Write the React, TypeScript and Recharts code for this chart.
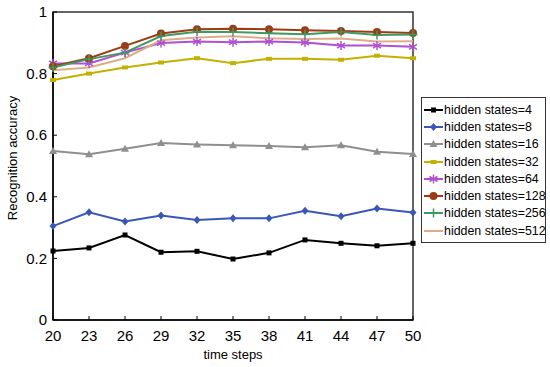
import { LineChart, Line, XAxis, YAxis, ReferenceArea } from 'recharts';

const timeSteps = [20, 23, 26, 29, 32, 35, 38, 41, 44, 47, 50];
const yTicks = [0, 0.2, 0.4, 0.6, 0.8, 1];

const hidden4 = [0.224, 0.234, 0.276, 0.22, 0.223, 0.198, 0.218, 0.26, 0.249, 0.241, 0.249];
const hidden8 = [0.305, 0.35, 0.32, 0.339, 0.325, 0.33, 0.33, 0.355, 0.337, 0.362, 0.349];
const hidden16 = [0.549, 0.538, 0.556, 0.575, 0.57, 0.567, 0.565, 0.561, 0.567, 0.546, 0.539];
const hidden32 = [0.779, 0.8, 0.82, 0.836, 0.85, 0.834, 0.848, 0.848, 0.845, 0.858, 0.85];
const hidden64 = [0.833, 0.833, 0.868, 0.899, 0.904, 0.902, 0.904, 0.901, 0.891, 0.891, 0.887];
const hidden128 = [0.824, 0.85, 0.89, 0.93, 0.944, 0.946, 0.944, 0.941, 0.938, 0.935, 0.932];
const hidden256 = [0.82, 0.847, 0.868, 0.922, 0.936, 0.935, 0.931, 0.928, 0.935, 0.925, 0.927];
const hidden512 = [0.811, 0.82, 0.85, 0.908, 0.917, 0.921, 0.915, 0.912, 0.914, 0.904, 0.905];

type Shape = 'square' | 'diamond' | 'triangle' | 'dash' | 'star' | 'circle' | 'plus' | 'none';

const series: { key: string; name: string; values: number[]; color: string; shape: Shape }[] = [
    { key: 'h4', name: 'hidden states=4', values: hidden4, color: '#000000', shape: 'square' },
    { key: 'h8', name: 'hidden states=8', values: hidden8, color: '#3a56b8', shape: 'diamond' },
    { key: 'h16', name: 'hidden states=16', values: hidden16, color: '#8f8f8f', shape: 'triangle' },
    { key: 'h32', name: 'hidden states=32', values: hidden32, color: '#c4b000', shape: 'dash' },
    { key: 'h64', name: 'hidden states=64', values: hidden64, color: '#b04fd0', shape: 'star' },
    { key: 'h128', name: 'hidden states=128', values: hidden128, color: '#9c3c14', shape: 'circle' },
    { key: 'h256', name: 'hidden states=256', values: hidden256, color: '#3f9a62', shape: 'plus' },
    { key: 'h512', name: 'hidden states=512', values: hidden512, color: '#dcae88', shape: 'none' },
];

const data = timeSteps.map((t, i) => {
    const row: Record<string, number> = { t };
    series.forEach((s) => { row[s.key] = s.values[i]; });
    return row;
});

const FONT = '"Liberation Sans", Arial, sans-serif';

const Marker = ({ cx, cy, shape, color }: { cx: number; cy: number; shape: Shape; color: string }) => {
    switch (shape) {
        case 'square':
            return <rect x={cx - 2.5} y={cy - 2.5} width={5} height={5} fill={color} />;
        case 'diamond':
            return <polygon points={`${cx},${cy - 4} ${cx + 3.5},${cy} ${cx},${cy + 4} ${cx - 3.5},${cy}`} fill={color} />;
        case 'triangle':
            return <polygon points={`${cx},${cy - 4} ${cx + 4},${cy + 3} ${cx - 4},${cy + 3}`} fill={color} />;
        case 'dash':
            return <rect x={cx - 3} y={cy - 2} width={6} height={4} fill={color} />;
        case 'star':
            return (
                <g stroke={color} strokeWidth={1.5}>
                    <line x1={cx} y1={cy - 4.5} x2={cx} y2={cy + 4.5} />
                    <line x1={cx - 4} y1={cy - 2.5} x2={cx + 4} y2={cy + 2.5} />
                    <line x1={cx - 4} y1={cy + 2.5} x2={cx + 4} y2={cy - 2.5} />
                </g>
            );
        case 'circle':
            return <circle cx={cx} cy={cy} r={4} fill={color} />;
        case 'plus':
            return (
                <g stroke={color} strokeWidth={1.5}>
                    <line x1={cx} y1={cy - 4.5} x2={cx} y2={cy + 4.5} />
                    <line x1={cx - 4.5} y1={cy} x2={cx + 4.5} y2={cy} />
                </g>
            );
        default:
            return <g />;
    }
};

const YTick = (props: any) => {
    const { x, y, payload } = props;
    return (
        <g>
            <line x1={x + 6} y1={y} x2={x + 10} y2={y} stroke="#000" strokeWidth={1} />
            <text x={x} y={y} dy="0.35em" textAnchor="end" fontSize={15} fontFamily={FONT} fill="#000">
                {payload.value}
            </text>
        </g>
    );
};

const XTick = (props: any) => {
    const { x, y, payload } = props;
    return (
        <g>
            <line x1={x} y1={y - 10} x2={x} y2={y - 14} stroke="#000" strokeWidth={1} />
            <text x={x} y={y} dy="0.71em" textAnchor="middle" fontSize={15} fontFamily={FONT} fill="#000">
                {payload.value}
            </text>
        </g>
    );
};

export default function App() {
    return (
        <div style={{ position: 'absolute', left: 0, top: 0, width: 550, height: 367, background: '#fff' }}>
            <LineChart width={550} height={367} data={data} margin={{ top: 12, right: 137, bottom: 0, left: 0 }}>
                <XAxis
                    dataKey="t"
                    type="number"
                    domain={[20, 50]}
                    ticks={timeSteps}
                    interval={0}
                    height={47}
                    tickSize={0}
                    tickMargin={10}
                    tickLine={false}
                    tick={<XTick />}
                    axisLine={{ stroke: '#000', strokeWidth: 1.5 }}
                    label={{ value: 'time steps', position: 'insideBottom', offset: 8, style: { fontSize: 13, fontFamily: FONT, fill: '#000' } }}
                />
                <YAxis
                    type="number"
                    domain={[0, 1]}
                    ticks={yTicks}
                    interval={0}
                    width={53}
                    tickSize={0}
                    tickMargin={6}
                    tickLine={false}
                    tick={<YTick />}
                    axisLine={{ stroke: '#000', strokeWidth: 1.5 }}
                    label={{ value: 'Recognition accuracy', angle: -90, position: 'insideLeft', offset: 12, dy: -8, style: { fontSize: 13, fontFamily: FONT, fill: '#000', textAnchor: 'middle' } }}
                />
                <ReferenceArea x1={20} x2={50} y1={0} y2={1} fill="none" stroke="#333" strokeWidth={1.5} ifOverflow="visible" />
                {series.map((s) => (
                    <Line
                        key={s.key}
                        dataKey={s.key}
                        name={s.name}
                        type="linear"
                        stroke={s.color}
                        strokeWidth={2}
                        isAnimationActive={false}
                        dot={(p: any) => <Marker key={`${s.key}-${p.index}`} cx={p.cx} cy={p.cy} shape={s.shape} color={s.color} />}
                        activeDot={false}
                    />
                ))}
            </LineChart>
            <div
                style={{
                    position: 'absolute',
                    left: 421,
                    top: 97,
                    width: 121,
                    border: '1.5px solid #333',
                    background: '#fff',
                    padding: '3px 0 3px 2px',
                    fontFamily: FONT,
                    fontSize: 12.4,
                    color: '#000',
                }}
            >
                {series.map((s) => (
                    <div key={s.key} style={{ display: 'flex', alignItems: 'center', height: 17.3, whiteSpace: 'nowrap' }}>
                        <svg width={19} height={12} style={{ flex: 'none' }}>
                            <line x1={0} y1={6} x2={19} y2={6} stroke={s.color} strokeWidth={2} />
                            <Marker cx={9.5} cy={6} shape={s.shape} color={s.color} />
                        </svg>
                        <span style={{ marginLeft: 1 }}>{s.name}</span>
                    </div>
                ))}
            </div>
        </div>
    );
}
